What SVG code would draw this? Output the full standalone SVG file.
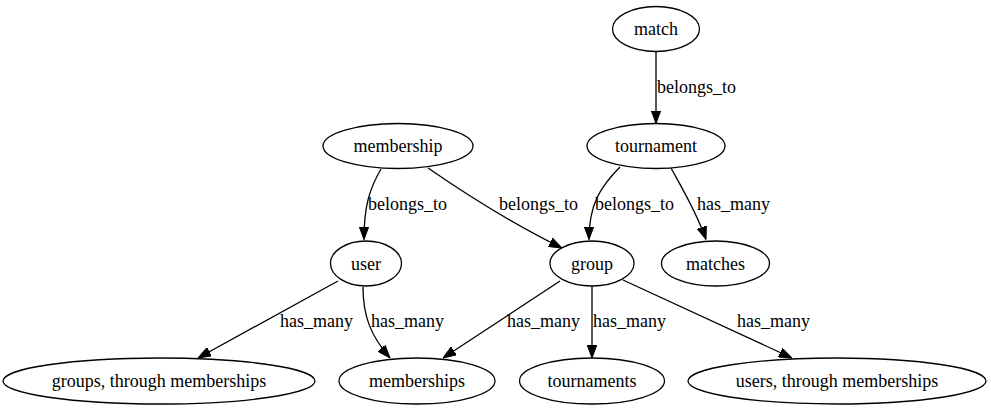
<svg xmlns="http://www.w3.org/2000/svg" width="991" height="411" viewBox="0 0 991 411">
<style>
  .node ellipse { fill: none; stroke: #000; stroke-width: 1.3; }
  .node text { font-family: "Liberation Serif", "Times New Roman", serif; font-size: 18px; text-anchor: middle; fill: #000; }
  .edge path { fill: none; stroke: #000; stroke-width: 1.3; marker-end: url(#arrow); }
  .edge text { font-family: "Liberation Serif", "Times New Roman", serif; font-size: 18px; fill: #000; }
</style>
<defs>
  <marker id="arrow" viewBox="-13 -5 13 10" markerWidth="13" markerHeight="10" refX="0" refY="0" markerUnits="userSpaceOnUse" orient="auto">
    <path d="M0,0 L-13,-4.8 L-13,4.8 Z" fill="#000" stroke="#000" stroke-width="1"/>
  </marker>
</defs>
<rect width="991" height="411" fill="#fff"/>
<g id="connectors">
  <g class="edge" id="e-match-tournament"><path d="M656,51.5 L656,123.5"/><text x="657" y="93">belongs_to</text></g>
  <g class="edge" id="e-membership-user"><path d="M381,169 C370,188 364,205 364,239.5"/><text x="368" y="210">belongs_to</text></g>
  <g class="edge" id="e-membership-group"><path d="M428,168 C470,197 515,225 562,248"/><text x="499" y="210">belongs_to</text></g>
  <g class="edge" id="e-tournament-group"><path d="M620,167 C600,187 589,205 589,239.5"/><text x="595" y="210">belongs_to</text></g>
  <g class="edge" id="e-tournament-matches"><path d="M671,168 C682,188 697,213 706,239.5"/><text x="697" y="210">has_many</text></g>
  <g class="edge" id="e-user-groups"><path d="M338,281 L198,358"/><text x="280" y="327">has_many</text></g>
  <g class="edge" id="e-user-memberships"><path d="M363,287 C363,315 370,335 390,358"/><text x="371" y="327">has_many</text></g>
  <g class="edge" id="e-group-memberships"><path d="M560,281 L443,358"/><text x="507" y="327">has_many</text></g>
  <g class="edge" id="e-group-tournaments"><path d="M592,286 L592,358"/><text x="593" y="327">has_many</text></g>
  <g class="edge" id="e-group-users"><path d="M623,280 L792,358"/><text x="737" y="327">has_many</text></g>
</g>
<g class="node" id="match"><ellipse cx="656" cy="29" rx="43.5" ry="22.5"/><text x="656" y="35">match</text></g>
<g class="node" id="tournament"><ellipse cx="656" cy="146" rx="69" ry="22.5"/><text x="656" y="152">tournament</text></g>
<g class="node" id="membership"><ellipse cx="398" cy="146" rx="75" ry="22.5"/><text x="398" y="152">membership</text></g>
<g class="node" id="user"><ellipse cx="366" cy="263.5" rx="35.5" ry="22.5"/><text x="366" y="269.5">user</text></g>
<g class="node" id="group"><ellipse cx="592" cy="263.5" rx="42" ry="22.5"/><text x="592" y="269.5">group</text></g>
<g class="node" id="matches"><ellipse cx="715.5" cy="263.5" rx="54" ry="22.5"/><text x="715.5" y="269.5">matches</text></g>
<g class="node" id="groups-through-memberships"><ellipse cx="159" cy="381" rx="156" ry="23"/><text x="159" y="387">groups, through memberships</text></g>
<g class="node" id="memberships"><ellipse cx="417" cy="381" rx="78" ry="23"/><text x="417" y="387">memberships</text></g>
<g class="node" id="tournaments"><ellipse cx="592" cy="381" rx="72.5" ry="23"/><text x="592" y="387">tournaments</text></g>
<g class="node" id="users-through-memberships"><ellipse cx="837" cy="381" rx="149" ry="23"/><text x="837" y="387">users, through memberships</text></g>
</svg>
